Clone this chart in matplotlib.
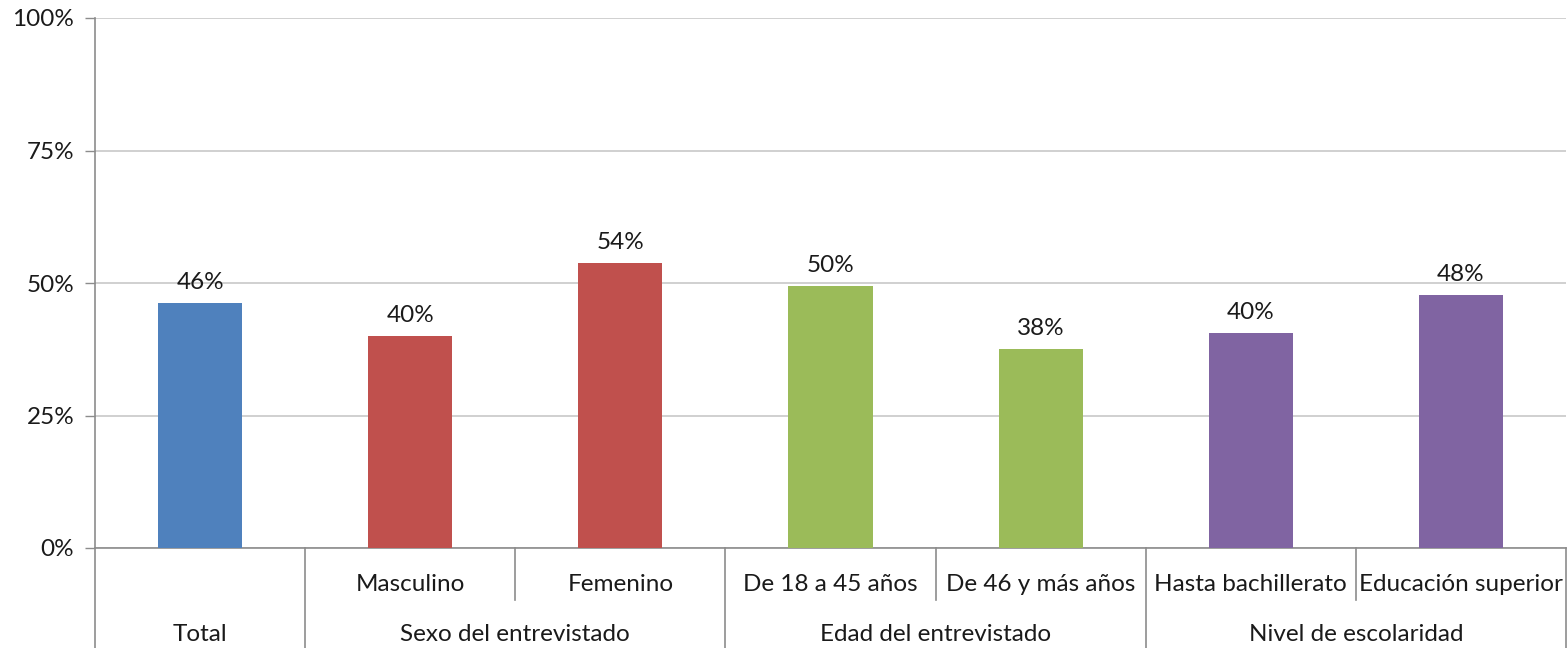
import numpy as np
import matplotlib.pyplot as plt
from matplotlib.transforms import blended_transform_factory

plt.rcParams['font.family'] = ['Lato', 'DejaVu Sans']

categorias = ['', 'Masculino', 'Femenino', 'De 18 a 45 años', 'De 46 y más años',
              'Hasta bachillerato', 'Educación superior']
grupos = ['Total', 'Sexo del entrevistado', 'Edad del entrevistado', 'Nivel de escolaridad']
grupo_tam = [1, 2, 2, 2]
valores = [46.2, 40.0, 53.8, 49.4, 37.5, 40.6, 47.7]
etiquetas = ['46%', '40%', '54%', '50%', '38%', '40%', '48%']
colores = ['#4F81BD', '#C0504D', '#C0504D', '#9BBB59', '#9BBB59', '#8064A2', '#8064A2']

fs = 17.5
tc = '#1a1a1a'

fig = plt.figure(figsize=(15.68, 6.48), dpi=100)
ax = fig.add_axes([95/1568, 1-548/648, (1566-95)/1568, 530/648])

x = np.arange(len(valores))
ax.bar(x, valores, width=0.4, color=colores, zorder=3)
for xi, v, t in zip(x, valores, etiquetas):
    ax.annotate(t, (xi, v), xytext=(0, 10), textcoords='offset pixels',
                ha='center', va='bottom', fontsize=fs, color=tc, zorder=4)

ax.set_xlim(-0.5, len(valores)-0.5)
ax.set_ylim(0, 100)
ax.set_yticks([0, 25, 50, 75, 100])
ax.set_yticklabels(['0%', '25%', '50%', '75%', '100%'], fontsize=fs, color=tc)
ax.grid(axis='y', color='#C8C8C8', linewidth=1.2, zorder=0)
ax.tick_params(axis='y', length=7, width=1, color='#8C8C8C', pad=8)
ax.set_xticks([])
for s in ['top', 'right']:
    ax.spines[s].set_visible(False)
for s in ['left', 'bottom']:
    ax.spines[s].set_color('#8C8C8C')
    ax.spines[s].set_linewidth(1.2)

tr = blended_transform_factory(ax.transData, ax.transAxes)
lc = '#8C8C8C'
# etiquetas de subcategorias
for xi, c in zip(x, categorias):
    ax.text(xi, -0.068, c, transform=tr, ha='center', va='center', fontsize=fs, color=tc)

# grupos y separadores
inicio = -0.5
ax.plot([inicio, inicio], [0, -0.19], transform=tr, color=lc, lw=1.2, clip_on=False)
for g, n in zip(grupos, grupo_tam):
    fin = inicio + n
    ax.text((inicio+fin)/2, -0.163, g, transform=tr, ha='center', va='center',
            fontsize=fs, color=tc)
    for k in range(1, n):
        ax.plot([inicio+k, inicio+k], [0, -0.098], transform=tr, color=lc, lw=1.2, clip_on=False)
    ax.plot([fin, fin], [0, -0.19], transform=tr, color=lc, lw=1.2, clip_on=False)
    inicio = fin

fig.savefig('out.png', dpi=100)
